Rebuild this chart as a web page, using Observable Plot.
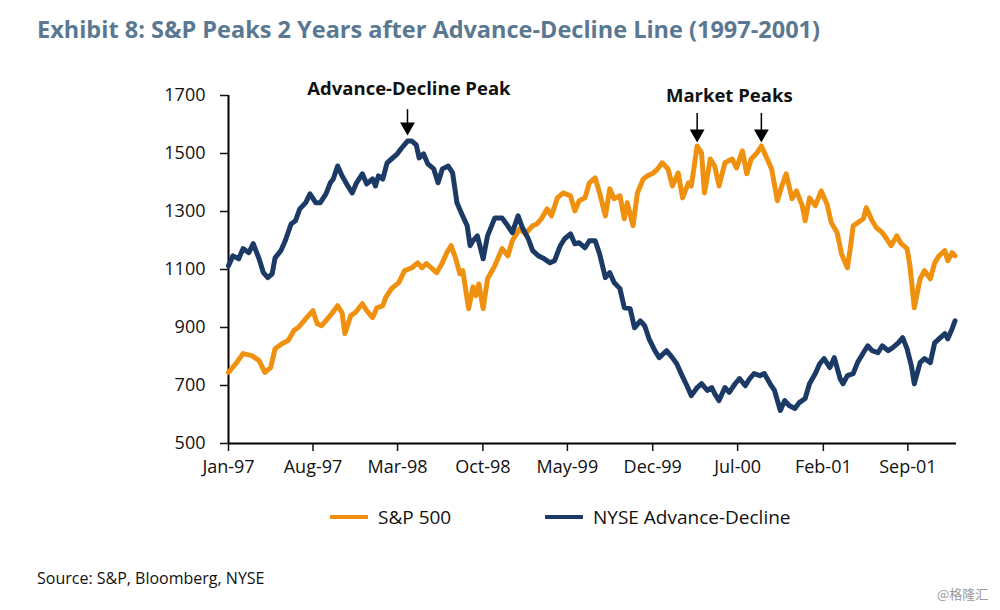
<!DOCTYPE html>
<html>
<head>
<meta charset="utf-8">
<script src="https://cdn.jsdelivr.net/npm/d3@7"></script>
<script src="https://cdn.jsdelivr.net/npm/@observablehq/plot@0.6"></script>
<style>
  html, body { margin: 0; padding: 0; background: #fff; }
  body { width: 1000px; height: 610px; position: relative; overflow: hidden; font-family: "Open Sans", sans-serif; }
  #title { position: absolute; left: 37px; top: 12px; font-size: 24px; font-weight: 700; color: #5a7891; white-space: nowrap; transform-origin: left top; }
  #chart { position: absolute; left: 0; top: 62px; }
  .leg { position: absolute; top: 505px; display: flex; align-items: center; height: 24px; font-size: 19px; color: #111; }
  .sw { width: 38px; height: 4px; margin-right: 10px; }
  #source { position: absolute; left: 37px; top: 567px; font-size: 16px; color: #111; }
  #wm { position: absolute; left: 937px; top: 584px; font-size: 13px; color: #999; font-family: "Noto Sans CJK SC", sans-serif; }
</style>
</head>
<body>
<div id="title">Exhibit 8: S&amp;P Peaks 2 Years after Advance-Decline Line (1997-2001)</div>
<div id="chart"></div>
<div class="leg" style="left:330px"><div class="sw" style="background:#f0900f"></div>S&amp;P 500</div>
<div class="leg" style="left:545px"><div class="sw" style="background:#1c3a66"></div>NYSE Advance-Decline</div>
<div id="source">Source: S&amp;P, Bloomberg, NYSE</div>
<div id="wm">@格隆汇</div>
<script>
// ---- Data (decimal years, index values) ----
const spYears = [1997.00,1997.05,1997.10,1997.16,1997.21,1997.25,1997.29,1997.32,1997.37,1997.41,1997.45,1997.48,1997.53,1997.58,1997.61,1997.64,1997.68,1997.71,1997.75,1997.78,1997.80,1997.84,1997.87,1997.92,1997.95,1997.99,1998.02,1998.06,1998.08,1998.12,1998.17,1998.21,1998.26,1998.30,1998.33,1998.36,1998.40,1998.43,1998.47,1998.50,1998.53,1998.56,1998.59,1998.61,1998.65,1998.68,1998.70,1998.72,1998.75,1998.78,1998.83,1998.88,1998.92,1998.95,1999.00,1999.04,1999.09,1999.12,1999.15,1999.19,1999.22,1999.26,1999.30,1999.35,1999.38,1999.41,1999.45,1999.48,1999.52,1999.55,1999.59,1999.62,1999.65,1999.69,1999.72,1999.74,1999.78,1999.81,1999.85,1999.88,1999.92,1999.95,1999.98,2000.02,2000.05,2000.09,2000.12,2000.16,2000.18,2000.22,2000.25,2000.27,2000.31,2000.34,2000.37,2000.41,2000.46,2000.49,2000.53,2000.56,2000.59,2000.63,2000.66,2000.70,2000.73,2000.77,2000.80,2000.83,2000.87,2000.90,2000.94,2000.96,2000.99,2001.03,2001.07,2001.11,2001.14,2001.18,2001.21,2001.25,2001.27,2001.29,2001.32,2001.36,2001.38,2001.42,2001.45,2001.49,2001.52,2001.55,2001.59,2001.62,2001.66,2001.68,2001.71,2001.75,2001.78,2001.82,2001.85,2001.88,2001.92,2001.94,2001.97,2001.99];
const spValues = [745,775,810,803,786,745,762,827,845,855,890,900,930,958,913,906,930,948,975,951,879,941,951,982,958,934,968,975,1003,1034,1055,1096,1106,1123,1106,1120,1103,1089,1123,1158,1182,1140,1085,1096,965,1040,1010,1050,965,1068,1113,1172,1147,1199,1240,1223,1251,1257,1275,1309,1285,1347,1364,1354,1302,1337,1347,1399,1416,1364,1285,1378,1344,1354,1275,1330,1251,1364,1412,1423,1433,1447,1468,1447,1388,1433,1347,1399,1388,1526,1502,1364,1481,1457,1388,1468,1481,1450,1509,1430,1481,1502,1526,1481,1447,1337,1388,1430,1344,1371,1320,1268,1347,1320,1371,1326,1261,1227,1154,1106,1172,1251,1261,1275,1313,1268,1244,1227,1206,1182,1216,1189,1172,1113,968,1068,1096,1068,1123,1147,1165,1130,1158,1147];

const adYears = [1997.00,1997.03,1997.07,1997.10,1997.14,1997.17,1997.21,1997.24,1997.27,1997.30,1997.32,1997.36,1997.39,1997.43,1997.46,1997.49,1997.53,1997.56,1997.60,1997.63,1997.67,1997.70,1997.72,1997.75,1997.78,1997.82,1997.85,1997.88,1997.92,1997.95,1997.99,1998.01,1998.03,1998.06,1998.09,1998.12,1998.16,1998.19,1998.23,1998.26,1998.29,1998.31,1998.34,1998.37,1998.41,1998.44,1998.47,1998.51,1998.54,1998.57,1998.60,1998.64,1998.66,1998.68,1998.71,1998.75,1998.78,1998.83,1998.88,1998.91,1998.95,1998.99,1999.02,1999.06,1999.09,1999.13,1999.16,1999.21,1999.24,1999.28,1999.31,1999.35,1999.38,1999.41,1999.45,1999.48,1999.52,1999.55,1999.59,1999.62,1999.65,1999.69,1999.72,1999.76,1999.79,1999.83,1999.86,1999.89,1999.93,1999.96,2000.01,2000.05,2000.08,2000.11,2000.15,2000.18,2000.22,2000.25,2000.29,2000.32,2000.34,2000.37,2000.41,2000.44,2000.48,2000.51,2000.55,2000.58,2000.61,2000.65,2000.68,2000.72,2000.75,2000.79,2000.82,2000.85,2000.89,2000.92,2000.96,2000.99,2001.03,2001.06,2001.09,2001.13,2001.16,2001.20,2001.22,2001.25,2001.29,2001.32,2001.36,2001.39,2001.42,2001.46,2001.49,2001.53,2001.56,2001.60,2001.63,2001.66,2001.69,2001.71,2001.75,2001.78,2001.82,2001.85,2001.88,2001.92,2001.94,2001.97,2001.99];
const adValues = [1113,1147,1137,1172,1158,1189,1137,1089,1072,1085,1140,1165,1199,1257,1268,1309,1330,1361,1330,1330,1361,1399,1412,1457,1423,1388,1364,1399,1430,1395,1412,1388,1423,1412,1468,1481,1499,1519,1543,1543,1530,1485,1499,1464,1447,1399,1447,1457,1433,1330,1295,1251,1182,1199,1216,1137,1216,1278,1278,1257,1227,1285,1244,1206,1165,1147,1140,1123,1130,1182,1206,1223,1189,1192,1175,1199,1199,1154,1072,1089,1055,1034,968,965,899,923,906,861,820,796,820,796,775,741,699,665,693,706,683,693,672,648,693,676,706,724,699,724,741,734,741,706,683,614,648,631,621,641,655,706,741,775,793,762,796,724,706,734,741,779,813,837,820,813,837,820,830,847,865,827,768,706,779,793,779,847,861,879,861,896,923];

const yTicks = [500, 700, 900, 1100, 1300, 1500, 1700];
const xTickDates = ["1997-01-01","1997-08-01","1998-03-01","1998-10-01","1999-05-01","1999-12-01","2000-07-01","2001-02-01","2001-09-01"];
const xDomain = ["1997-01-01", "2002-01-01"];

// annotations: labels, and arrows pointing at peaks (date as decimal year, value scale)
const annoLabels = ["Advance-Decline Peak", "Market Peaks"];
const annoLabelYears = [1998.24, 2000.44];
const annoLabelValues = [1722, 1698];
const arrowYears = [1998.23, 2000.22, 2000.66];
const arrowTop = [1653, 1640, 1640];
const arrowTip = [1578, 1554, 1554];

const orange = "#f0900f";
const navy = "#1c3a66";

// ---- helpers ----
function yearToDate(y) {
  const yr = Math.floor(y);
  const s = Date.UTC(yr, 0, 1), e = Date.UTC(yr + 1, 0, 1);
  return new Date(s + (y - yr) * (e - s));
}
const sp = spYears.map((y, i) => ({date: yearToDate(y), value: spValues[i]}));
const ad = adYears.map((y, i) => ({date: yearToDate(y), value: adValues[i]}));
const labels = annoLabels.map((t, i) => ({date: yearToDate(annoLabelYears[i]), value: annoLabelValues[i], text: t}));
const arrows = arrowYears.map((y, i) => ({date: yearToDate(y), top: arrowTop[i], tip: arrowTip[i]}));
const xStart = new Date(xDomain[0]);

const chart = Plot.plot({
  width: 1000,
  height: 440,
  marginLeft: 228,
  marginRight: 44,
  marginTop: 33,
  marginBottom: 59,
  style: {fontFamily: "Open Sans, sans-serif", fontSize: "18px", color: "#111", background: "transparent", overflow: "visible"},
  x: {type: "utc", domain: xDomain.map(d => new Date(d))},
  y: {domain: [500, 1700]},
  marks: [
    Plot.axisY({ticks: yTicks, tickSize: 8, tickPadding: 15, label: null, strokeWidth: 1.5, tickFormat: d => String(d), fontSize: 18}),
    Plot.axisX({ticks: xTickDates.map(d => new Date(d)), tickSize: 8, tickPadding: 9, label: null, strokeWidth: 1.5, tickFormat: d3.utcFormat("%b-%y"), fontSize: 18}),
    Plot.ruleX([xStart], {stroke: "#000", strokeWidth: 2}),
    Plot.ruleY([500], {stroke: "#000", strokeWidth: 2}),
    Plot.line(sp, {x: "date", y: "value", stroke: orange, strokeWidth: 5, strokeLinejoin: "round", strokeLinecap: "round"}),
    Plot.line(ad, {x: "date", y: "value", stroke: navy, strokeWidth: 5, strokeLinejoin: "round", strokeLinecap: "round"}),
    Plot.link(arrows, {x1: "date", x2: "date", y1: "top", y2: "tip", stroke: "#000", strokeWidth: 1.5, clip: false}),
    Plot.dot(arrows, {x: "date", y: "tip", symbol: "triangle", rotate: 180, r: 5.5, fill: "#000", stroke: null, dy: -4}),
    Plot.text(labels, {x: "date", y: "value", text: "text", fontWeight: 700, fontSize: 18.5, fill: "#111"})
  ]
});
document.getElementById("chart").appendChild(chart);

// fit the title to the reference width
const t = document.getElementById("title");
const w = t.getBoundingClientRect().width;
t.style.transform = `scaleX(${783 / w})`;
</script>
</body>
</html>
